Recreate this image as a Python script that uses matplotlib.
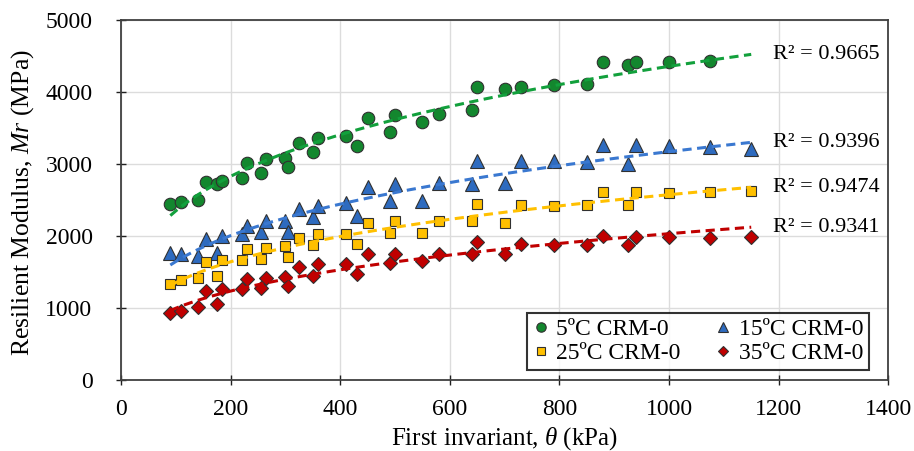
import numpy as np
import matplotlib.pyplot as plt

plt.rcParams['font.family'] = 'Liberation Serif'
plt.rcParams['mathtext.fontset'] = 'custom'
plt.rcParams['mathtext.it'] = 'Liberation Serif:italic'
plt.rcParams['mathtext.rm'] = 'Liberation Serif'

# first invariant (kPa), shared by all temperatures
theta = [90, 110, 140, 155, 175, 185, 220, 230, 255, 265, 300, 305, 325, 350, 360,
         410, 430, 450, 490, 500, 550, 580, 640, 650, 700, 730, 790, 850, 880, 925,
         940, 1000, 1075, 1150]

# resilient modulus (MPa)
mr_5 = [2450, 2470, 2500, 2745, 2725, 2765, 2810, 3020, 2870, 3070, 3090, 2960, 3295,
        3160, 3360, 3395, 3250, 3645, 3440, 3685, 3580, 3700, 3745, 4070, 4035, 4070,
        4095, 4115, 4420, 4370, 4420, 4420, 4435]
mr_15 = [1765, 1745, 1720, 1965, 1765, 2000, 2025, 2140, 2050, 2210, 2210, 2050, 2370,
         2270, 2420, 2465, 2280, 2675, 2480, 2720, 2490, 2730, 2720, 3040, 2730, 3045,
         3035, 3025, 3270, 3000, 3270, 3255, 3240, 3215]
mr_25 = [1335, 1385, 1420, 1635, 1450, 1665, 1665, 1815, 1685, 1835, 1860, 1710, 1975,
         1870, 2025, 2025, 1895, 2185, 2045, 2210, 2045, 2210, 2210, 2440, 2185, 2430,
         2420, 2430, 2615, 2430, 2615, 2600, 2615, 2625]
mr_35 = [930, 965, 1010, 1235, 1060, 1265, 1265, 1405, 1280, 1420, 1430, 1300, 1570,
         1450, 1615, 1615, 1475, 1745, 1630, 1755, 1650, 1755, 1755, 1915, 1755, 1885,
         1875, 1875, 2000, 1875, 1985, 1985, 1975, 1985]

labels = ['5ºC CRM-0', '15ºC CRM-0', '25ºC CRM-0', '35ºC CRM-0']
r2_text = ['R² = 0.9665', 'R² = 0.9396', 'R² = 0.9474', 'R² = 0.9341']

series = [mr_5, mr_15, mr_25, mr_35]
colors = ['#13872e', '#2e6bbf', '#ffc000', '#c00000']
line_colors = ['#12a03c', '#3a78d0', '#ffc000', '#c00000']
markers = ['o', '^', 's', 'D']
msizes = [9, 9.5, 7, 7]

fig = plt.figure(figsize=(9.14, 4.51), dpi=100)
ax = fig.add_axes([0.1324, 0.1574, 0.8394, 0.7983])

handles = []
for i, y in enumerate(series):
    x = np.array(theta[:len(y)], dtype=float)
    y = np.array(y, dtype=float)
    h, = ax.plot(x, y, linestyle='none', marker=markers[i], ms=msizes[i],
                 mfc=colors[i], mec='#303030', mew=0.8, zorder=3)
    handles.append(h)
    # power trendline
    b, lna = np.polyfit(np.log(x), np.log(y), 1)
    xf = np.linspace(90, 1150, 200)
    yf = np.exp(lna) * xf ** b
    ax.plot(xf, yf, color=line_colors[i], lw=2.2, dashes=(3, 1.8), zorder=4)
    ax.text(1190, np.exp(lna) * 1150 ** b, r2_text[i], fontsize=16,
            ha='left', va='center', zorder=5)

ax.set_xlim(0, 1400)
ax.set_ylim(0, 5000)
ax.set_xticks(np.arange(0, 1401, 200))
ax.set_yticks(np.arange(0, 5001, 1000))
ax.grid(True, color='#dcdcdc', lw=1)
ax.set_axisbelow(True)
ax.tick_params(direction='inout', length=7, width=1, labelsize=17, color='#202020')
ax.tick_params(axis='x', pad=10)
ax.tick_params(axis='y', pad=17)
for s in ax.spines.values():
    s.set_color('#404040')
    s.set_linewidth(1.3)

ax.set_xlabel(r'First invariant, $\it{\theta}$ (kPa)', fontsize=18)
ax.set_ylabel(r'Resilient Modulus, $\it{Mr}$ (MPa)', fontsize=18.5)
ax.xaxis.label.set_va('center')
ax.yaxis.label.set_va('center')
ax.xaxis.set_label_coords(0.5, -0.162)
ax.yaxis.set_label_coords(-0.128, 0.494)

leg = ax.legend([handles[0], handles[2], handles[1], handles[3]],
                [labels[0], labels[2], labels[1], labels[3]],
                ncol=2, loc='lower left', bbox_to_anchor=(0.529, 0.028, 0.446, 0.169),
                mode='expand', fontsize=17, frameon=True, fancybox=False,
                markerscale=0.75, handlelength=0.7, handletextpad=0.3,
                columnspacing=0.8, borderpad=0.25, labelspacing=0.1, borderaxespad=0)
leg.get_frame().set_edgecolor('black')
leg.get_frame().set_linewidth(1.5)

fig.savefig('out.png', dpi=100)
